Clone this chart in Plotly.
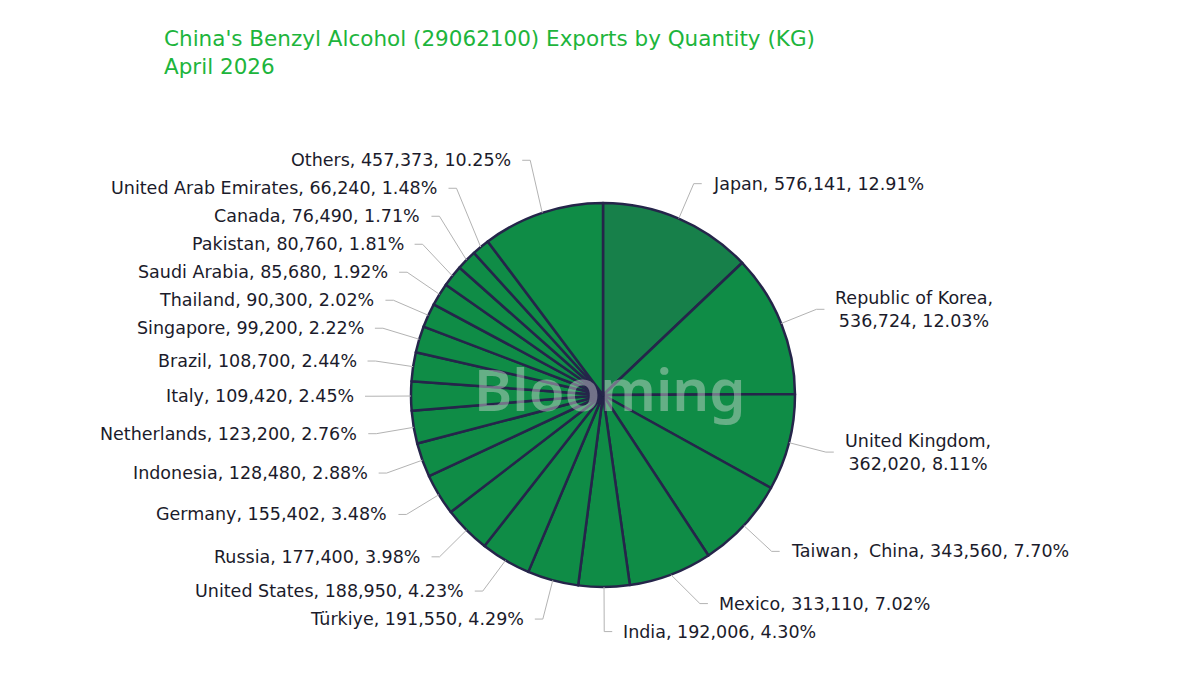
import math
import plotly.graph_objects as go

# ---- data ----
countries = ["Japan", "Republic of Korea", "United Kingdom", "Taiwan，China", "Mexico",
             "India", "Türkiye", "United States", "Russia", "Germany", "Indonesia",
             "Netherlands", "Italy", "Brazil", "Singapore", "Thailand", "Saudi Arabia",
             "Pakistan", "Canada", "United Arab Emirates", "Others"]
quantities = [576141, 536724, 362020, 343560, 313110, 192006, 191550, 188950, 177400,
              155402, 128480, 123200, 109420, 108700, 99200, 90300, 85680, 80760,
              76490, 66240, 457373]
wrapped = {"Republic of Korea", "United Kingdom"}
title_lines = ["China's Benzyl Alcohol (29062100) Exports by Quantity (KG)", "April 2026"]

# ---- layout constants (pixels) ----
W, H = 1200, 674
CX, CY, R = 603, 395, 192
R_ELBOW = 230
LEN2 = 8
GAP = 9
LINE_H = 28
BIAS_TOP = 0.85
FONT = "DejaVu Sans, Noto Sans CJK SC"

def px(x):
    return x / W

def py(y):
    return 1 - y / H

total = sum(quantities)
colors = ["#17804a"] + ["#0f8c46"] * (len(countries) - 1)

fig = go.Figure()
fig.add_trace(go.Pie(
    labels=countries, values=quantities, sort=False, direction="clockwise",
    rotation=0, textinfo="none", showlegend=False,
    marker=dict(colors=colors, line=dict(color="#25254a", width=2.5)),
    domain=dict(x=[px(CX - R), px(CX + R)], y=[py(CY + R), py(CY - R)]),
))

# ---- label layout computed from data ----
items = []
cum = 0
for name, q in zip(countries, quantities):
    mid = (cum + q / 2) / total * 2 * math.pi
    cum += q
    dx, dy = math.sin(mid), -math.cos(mid)
    pct = q / total * 100
    sep = "<br>" if name in wrapped else " "
    text = f"{name},{sep}{q:,}, {pct:.2f}%"
    lines = 2 if name in wrapped else 1
    items.append(dict(dx=dx, dy=dy, text=text, lines=lines,
                      side=1 if dx >= 0 else -1,
                      ex=CX + R * dx, ey=CY + R * dy,
                      nx=CX + R_ELBOW * dx, y=CY + R_ELBOW * dy))

for side in (1, -1):
    grp = sorted([it for it in items if it["side"] == side], key=lambda it: it["y"])
    for _ in range(600):
        moved = False
        for a, b in zip(grp[:-1], grp[1:]):
            need = (a["lines"] + b["lines"]) / 2 * LINE_H
            gap = b["y"] - a["y"]
            if gap < need - 0.01:
                d = need - gap
                up = BIAS_TOP if (a["y"] + b["y"]) / 2 < CY else 0.5
                a["y"] -= d * up
                b["y"] += d * (1 - up)
                moved = True
        if not moved:
            break

shapes = []
annotations = []
for it in items:
    s = it["side"]
    ddy = it["y"] - CY
    if abs(ddy) < R_ELBOW:
        xe = CX + s * math.sqrt(R_ELBOW ** 2 - ddy ** 2)
        if s * (xe - it["nx"]) < 0:
            xe = it["nx"]
    else:
        xe = it["nx"]
    xt = xe + s * LEN2
    for (x0, y0, x1, y1) in [(it["ex"], it["ey"], xe, it["y"]), (xe, it["y"], xt, it["y"])]:
        shapes.append(dict(type="line", xref="paper", yref="paper",
                           x0=px(x0), y0=py(y0), x1=px(x1), y1=py(y1),
                           line=dict(color="#b3b3b3", width=1)))
    annotations.append(dict(
        x=px(xt + s * GAP), y=py(it["y"]), xref="paper", yref="paper",
        text=it["text"], showarrow=False, align="center",
        xanchor="left" if s > 0 else "right", yanchor="middle",
        font=dict(family=FONT, size=17.5, color="#1b1b2b"),
    ))

# watermark
annotations.append(dict(
    x=px(610), y=py(388), xref="paper", yref="paper", text="Blooming",
    showarrow=False, xanchor="center", yanchor="middle",
    font=dict(family="Noto Sans", size=58, color="rgba(225,225,225,0.42)", weight=600),
))

# title
annotations.append(dict(
    x=px(162), y=py(24), xref="paper", yref="paper",
    text="<br>".join(title_lines), showarrow=False, align="left",
    xanchor="left", yanchor="top",
    font=dict(family=FONT, size=21.5, color="#1db53c"),
))

fig.update_layout(
    width=W, height=H, margin=dict(l=0, r=0, t=0, b=0),
    paper_bgcolor="white", plot_bgcolor="white",
    shapes=shapes, annotations=annotations,
)

fig.write_html("out.html")
